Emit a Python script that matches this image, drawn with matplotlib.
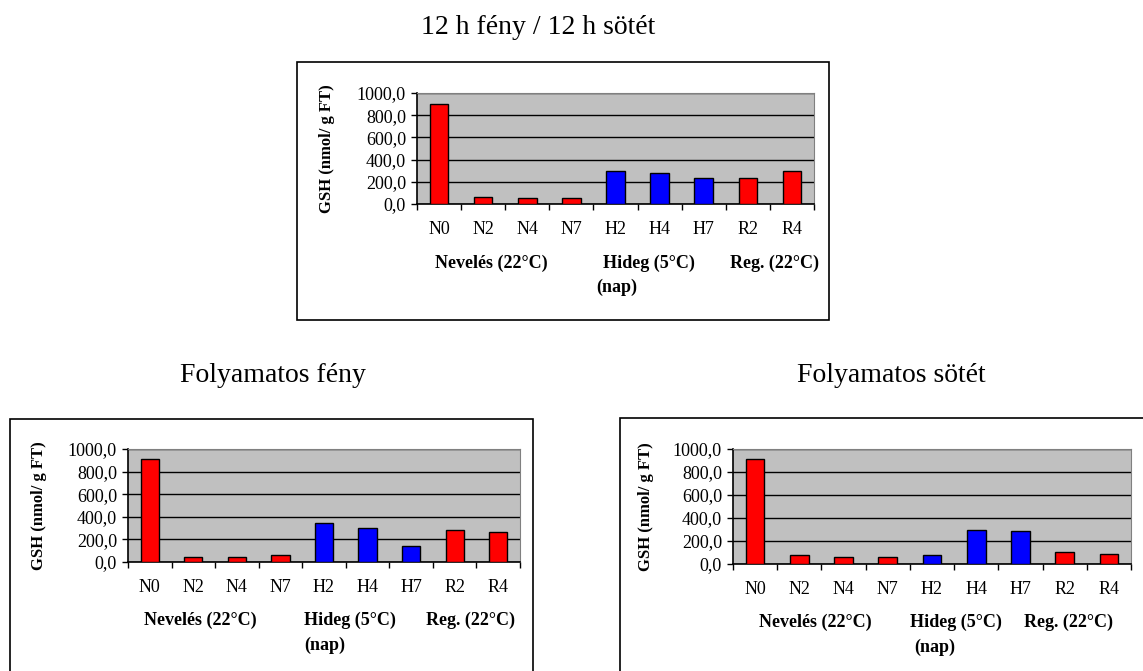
import matplotlib
matplotlib.use("Agg")
import matplotlib.pyplot as plt
from matplotlib.patches import Rectangle
from matplotlib.ticker import FuncFormatter, FixedLocator

plt.rcParams["font.family"] = ["Liberation Serif", "DejaVu Serif"]

W, H = 1143, 671

categories = ["N0", "N2", "N4", "N7", "H2", "H4", "H7", "R2", "R4"]
bar_colors = ["#FF0000"] * 4 + ["#0000FF"] * 3 + ["#FF0000"] * 2

# GSH (nmol/ g FT) values
gsh_12_12 = [905, 65, 50, 50, 300, 275, 235, 235, 300]
gsh_light = [910, 45, 45, 60, 345, 305, 140, 280, 265]
gsh_dark = [910, 75, 65, 65, 75, 300, 285, 105, 85]

panel_titles = ["12 h fény / 12 h sötét", "Folyamatos fény", "Folyamatos sötét"]
group_labels = ["Nevelés (22°C)", "Hideg (5°C)", "Reg. (22°C)"]
day_label = "(nap)"
y_label = "GSH (nmol/ g FT)"
y_ticks = [0, 200, 400, 600, 800, 1000]


def fx(x):
    return x / W


def fy(y):
    return 1 - y / H


# pixel layout of each panel (x0, y0, x1, y1 from top-left)
layouts = [
    dict(title=(538, 28), frame=(297, 62, 829, 320), plot=(417, 93, 814, 204),
         ylab=327, nev=491, hid=603, reg=774, nap=596, grp_y=263, nap_y=287),
    dict(title=(273, 375), frame=(10, 419, 533, 690), plot=(128, 449, 520, 562),
         ylab=39, nev=200, hid=304, reg=471, nap=304, grp_y=620, nap_y=645),
    dict(title=(891, 375), frame=(620, 418, 1150, 690), plot=(733, 449, 1131, 564),
         ylab=646, nev=815, hid=910, reg=1068, nap=914, grp_y=622, nap_y=647),
]
datasets = [gsh_12_12, gsh_light, gsh_dark]

fig = plt.figure(figsize=(W / 100, H / 100), dpi=100)

for title, values, lay in zip(panel_titles, datasets, layouts):
    # outer chart frame
    x0, y0, x1, y1 = lay["frame"]
    fig.patches.append(Rectangle((fx(x0), fy(y1)), fx(x1 - x0), (y1 - y0) / H,
                                 transform=fig.transFigure, fill=False,
                                 edgecolor="black", linewidth=1.2))
    fig.text(fx(lay["title"][0]), fy(lay["title"][1]), title,
             ha="center", va="center", fontsize=20)

    px0, py0, px1, py1 = lay["plot"]
    ax = fig.add_axes([fx(px0), fy(py1), fx(px1 - px0), (py1 - py0) / H])
    ax.set_facecolor("#C0C0C0")
    xs = range(len(categories))
    ax.bar(xs, values, width=0.42, color=bar_colors, edgecolor="black",
           linewidth=1, zorder=3)
    ax.set_xlim(-0.5, len(categories) - 0.5)
    ax.set_ylim(0, 1000)
    ax.set_yticks(y_ticks)
    ax.yaxis.set_major_formatter(FuncFormatter(lambda v, p: f"{v:.1f}".replace(".", ",")))
    ax.grid(axis="y", color="black", linewidth=1, zorder=1)

    ax.set_xticks(list(xs))
    ax.set_xticklabels(categories)
    ax.xaxis.set_minor_locator(FixedLocator([i - 0.5 for i in range(len(categories) + 1)]))
    ax.tick_params(axis="x", which="major", length=0, pad=12, labelsize=13)
    ax.tick_params(axis="x", which="minor", length=4, width=1, direction="out")
    ax.tick_params(axis="y", length=4, width=1, direction="out", pad=4, labelsize=13)

    for side in ["top", "right"]:
        ax.spines[side].set_color("#808080")
    for side in ["left", "bottom"]:
        ax.spines[side].set_color("black")
        ax.spines[side].set_linewidth(1.2)

    fig.text(fx(lay["ylab"]), fy((py0 + py1) / 2), y_label, rotation=90,
             ha="center", va="center", fontsize=12, fontweight="bold")
    fig.text(fx(lay["nev"]), fy(lay["grp_y"]), group_labels[0],
             ha="center", va="center", fontsize=13, fontweight="bold")
    fig.text(fx(lay["hid"]), fy(lay["grp_y"]), group_labels[1],
             ha="left", va="center", fontsize=13, fontweight="bold")
    fig.text(fx(lay["reg"]), fy(lay["grp_y"]), group_labels[2],
             ha="center", va="center", fontsize=13, fontweight="bold")
    fig.text(fx(lay["nap"]), fy(lay["nap_y"]), day_label,
             ha="left", va="center", fontsize=13, fontweight="bold")

fig.savefig("out.png", dpi=100, facecolor="white")
